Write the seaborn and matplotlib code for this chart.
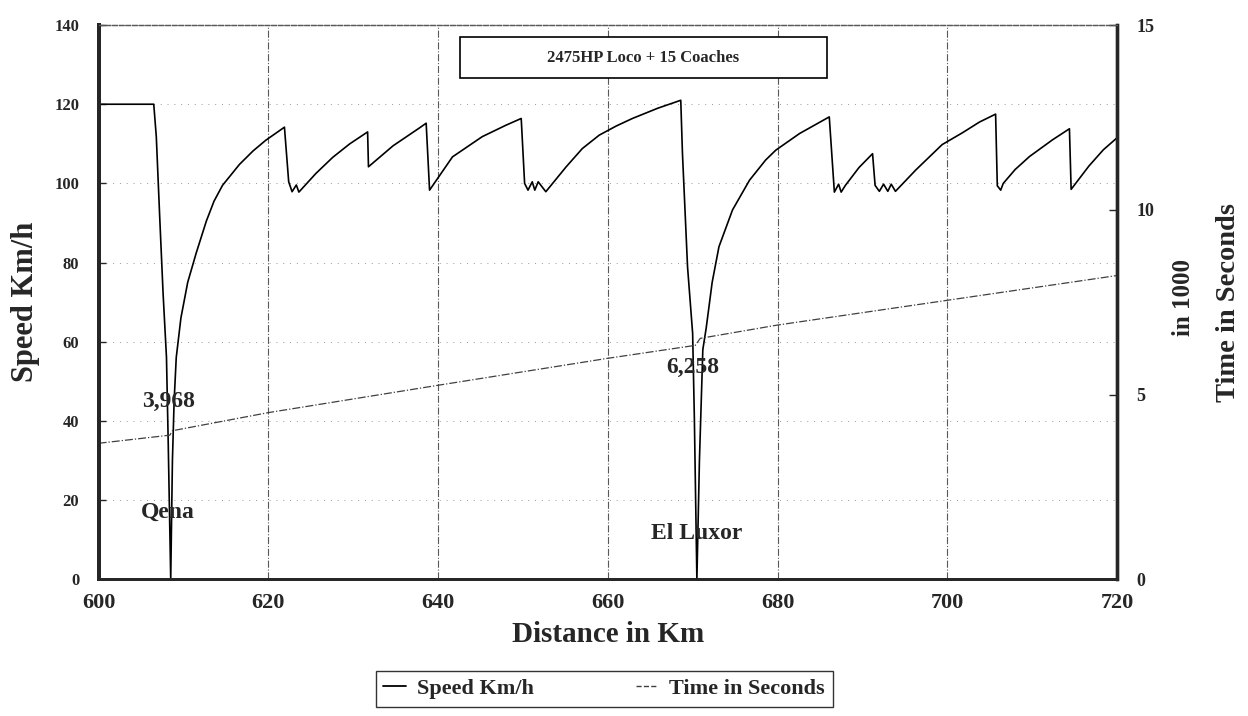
import matplotlib.pyplot as plt
from matplotlib.patches import Rectangle
from matplotlib.lines import Line2D
import seaborn as sns
import pandas as pd

# speed profile (km, km/h)
dist_km = [600, 606.5, 606.8, 607.2, 607.6, 608.0, 608.2, 608.5,
           608.7, 608.9, 609.15, 609.7, 610.5, 611.5, 612.7, 613.6, 614.6, 616.6, 618.2, 619.7, 621.9,
           622.4, 622.8, 623.3, 623.6, 625.6, 627.6, 629.6, 631.7,
           631.8, 634.7, 637.8, 638.6,
           639.0, 641.7, 645.2, 648.0, 649.8,
           650.2, 650.6, 651.1, 651.4, 651.8, 652.7, 655.1, 657.0, 659.0, 661.0, 662.9, 665.9, 668.6,
           668.8, 669.4, 670.0, 670.2, 670.5,
           670.8, 671.2, 671.6, 672.3, 673.1, 674.7, 676.7, 678.6, 679.8, 682.6, 686.1,
           686.7, 687.2, 687.5, 688.0, 689.6, 691.2,
           691.5, 692.0, 692.5, 693.0, 693.4, 693.9, 696.3, 699.4, 701.8, 703.8, 705.7,
           705.9, 706.3, 706.6, 708.0, 709.7, 712.4, 714.4,
           714.6, 716.7, 718.4, 720.0]
speed_kmh = [120, 120, 111.8, 91.6, 72.2, 56, 35, 0,
             30, 45, 56, 66, 75, 82.4, 90.5, 95.5, 99.5, 104.8, 108.2, 110.9, 114.2,
             100.4, 97.9, 99.6, 97.8, 102.5, 106.6, 110.0, 113,
             104.2, 109.5, 114.0, 115.2,
             98.3, 106.7, 111.8, 114.7, 116.4,
             100, 98.3, 100.4, 98.3, 100.4, 97.9, 104.2, 108.8, 112.2, 114.5, 116.4, 119.0, 121.0,
             107.6, 78.9, 62.1, 41, 0,
             30, 58, 63.5, 75, 84, 93.3, 100.8, 105.9, 108.4, 112.6, 116.8,
             97.8, 99.8, 97.8, 99.5, 104.0, 107.5,
             99.5, 98, 99.8, 98, 99.8, 98, 103.4, 109.8, 112.8, 115.5, 117.5,
             99.4, 98.3, 100, 103.5, 106.8, 111, 113.8,
             98.5, 104.4, 108.5, 111.5]

# running time (thousands of seconds)
time_km = [600, 608.4, 608.7, 620, 640, 660, 670.3, 670.9, 680, 700, 720]
time_s1000 = [3.68, 3.90, 4.02, 4.51, 5.25, 5.98, 6.33, 6.52, 6.88, 7.55, 8.22]

speed_df = pd.DataFrame({'dist': dist_km, 'speed': speed_kmh})
time_df = pd.DataFrame({'dist': time_km, 'time': time_s1000})

sns.set_style('white')
plt.rcParams['font.family'] = ['Liberation Serif', 'DejaVu Serif']
plt.rcParams['font.weight'] = 'bold'

fig = plt.figure(figsize=(12.48, 7.16), dpi=100)
ax = fig.add_axes([0.079, 0.191, 0.816, 0.774])

sns.lineplot(data=speed_df, x='dist', y='speed', ax=ax, sort=False, estimator=None,
             color='black', linewidth=1.2)
ax.set_xlim(600, 720)
ax.set_ylim(0, 140)
ax.set_xticks(range(600, 721, 20))
ax.set_xticks(range(610, 720, 20), minor=True)
ax.set_yticks(range(0, 141, 20))
ax.set_xlabel('Distance in Km', fontsize=21, fontweight='bold', labelpad=6)
ax.set_ylabel('Speed Km/h', fontsize=22, fontweight='bold', labelpad=10)
ax.tick_params(axis='x', direction='in', length=6, width=1.2, labelsize=16, pad=10)
ax.tick_params(axis='x', which='minor', direction='in', length=5, width=1.2)
ax.tick_params(axis='y', direction='in', length=5, width=1, labelsize=12, pad=14)

for v in range(620, 701, 20):
    ax.axvline(v, color='0.35', lw=0.8, ls='-.', zorder=0)
for h in range(20, 121, 20):
    ax.axhline(h, color='0.6', lw=0.7, ls=(0, (1, 6)), zorder=0)

ax2 = ax.twinx()
sns.lineplot(data=time_df, x='dist', y='time', ax=ax2, color='0.25', linewidth=0.9)
ax2.lines[0].set_linestyle('-.')
ax2.set_ylim(0, 15)
ax2.set_yticks([0, 5, 10, 15])
ax2.set_ylabel('Time in Seconds', fontsize=20.5, fontweight='bold', labelpad=44)
ax2.tick_params(axis='y', direction='in', length=6, width=1, labelsize=13, pad=14)
ax2.set_xlim(600, 720)

for a in (ax, ax2):
    a.spines['left'].set_linewidth(2.8)
    a.spines['bottom'].set_linewidth(2.0)
    a.spines['right'].set_linewidth(2.4)
    a.spines['top'].set_linewidth(0.9)
    a.spines['top'].set_linestyle('--')
    a.spines['top'].set_color('0.35')
    for lbl in a.get_xticklabels() + a.get_yticklabels():
        lbl.set_fontweight('bold')

fig.text(0.948, 0.585, 'in 1000', rotation=90, fontsize=18, fontweight='bold',
         ha='center', va='center')

# station annotations
ax.text(608.2, 45, '3,968', fontsize=17, ha='center', va='center')
ax.text(608.2, 17, 'Qena', fontsize=17, ha='center', va='center')
ax.text(670.0, 53.5, '6,258', fontsize=17, ha='center', va='center')
ax.text(670.5, 11.5, 'El Luxor', fontsize=17, ha='center', va='center')

# title box
ax.add_patch(Rectangle((0.355, 0.904), 0.36, 0.074, transform=ax.transAxes,
                       fill=True, facecolor='white', edgecolor='black', lw=1.2, zorder=5))
ax.text(0.535, 0.941, '2475HP Loco + 15 Coaches', transform=ax.transAxes,
        fontsize=12, ha='center', va='center', zorder=6)

handles = [Line2D([], [], color='black', lw=1.3),
           Line2D([], [], color='0.25', lw=1.0, ls='--')]
leg = fig.legend(handles, ['Speed Km/h', 'Time in Seconds'], loc='center',
                 bbox_to_anchor=(0.484, 0.038), ncol=2, frameon=True, fancybox=False,
                 edgecolor='black', handlelength=1.0, handletextpad=0.5,
                 columnspacing=4.6, borderpad=0.35, prop={'size': 16, 'weight': 'bold'})
leg.get_frame().set_linewidth(1.0)

fig.savefig('out.png', dpi=100)
